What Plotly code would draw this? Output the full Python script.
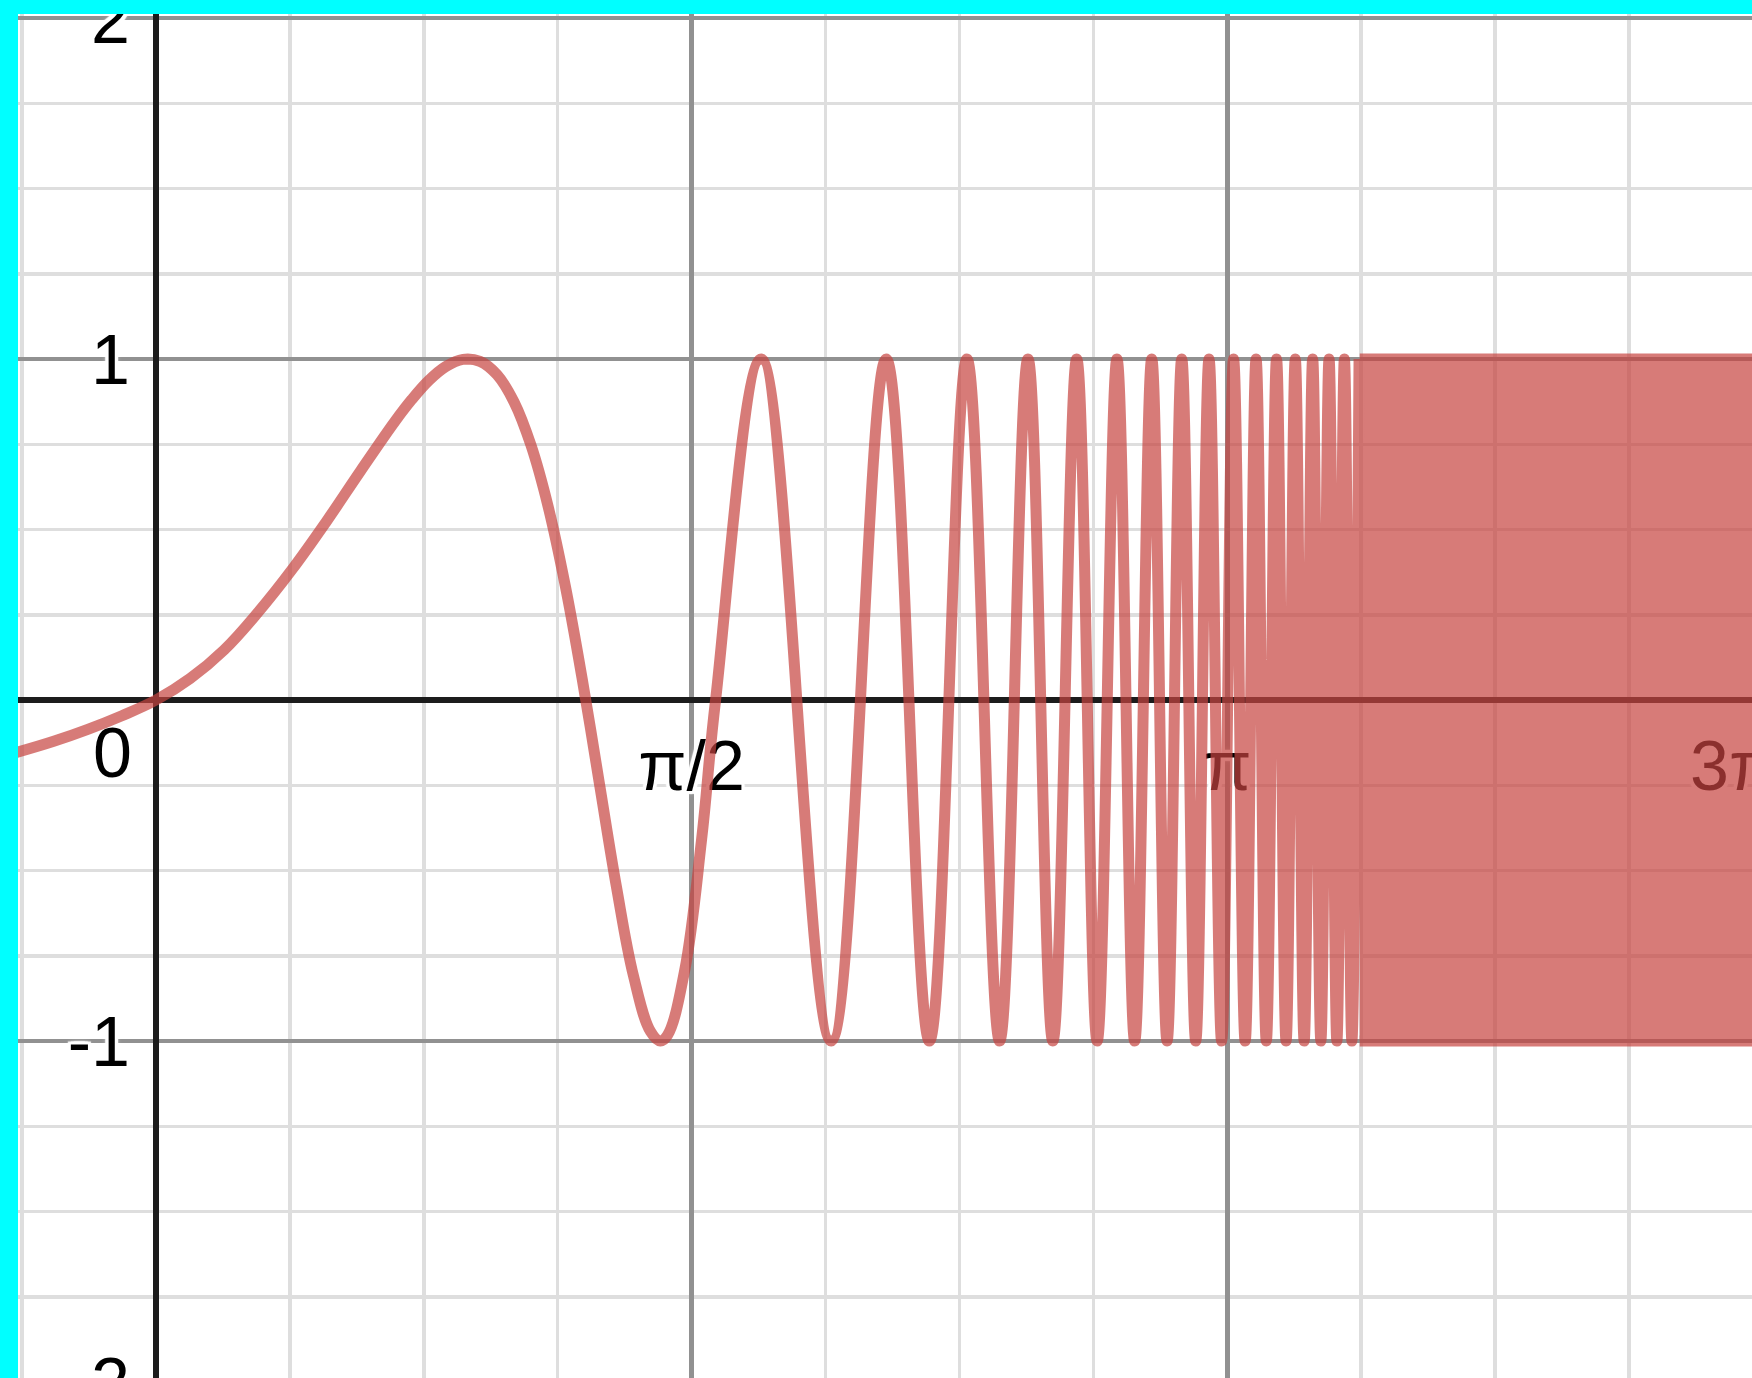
import math
import plotly.graph_objects as go

PI = math.pi

# ---- data ----
# slow part of the curve (x in radians, y value)
smooth_x = [-0.41, -0.3, -0.2, -0.1, 0.0, 0.1, 0.2, 0.3, 0.4, 0.5, 0.6, 0.7, 0.75, 0.8, 0.85,
            0.9, 0.95, 1.0, 1.05, 1.1, 1.15, 1.2, 1.25, 1.3, 1.35, 1.4, 1.45, 1.479, 1.5,
            1.55, 1.6, 1.641]
smooth_y = [-0.154, -0.121, -0.086, -0.046, 0.0, 0.063, 0.147, 0.258, 0.384, 0.524, 0.672,
            0.816, 0.881, 0.937, 0.978, 0.999, 0.993, 0.954, 0.874, 0.746, 0.567, 0.336,
            0.061, -0.243, -0.546, -0.808, -0.972, -1.0, -0.983, -0.795, -0.409, 0.0]

# faster oscillations: peaks and troughs
osc_x = [1.775, 1.980, 2.141, 2.268, 2.378, 2.474, 2.557,
         2.630, 2.700, 2.760, 2.818, 2.870, 2.920, 2.965, 3.008, 3.049, 3.088, 3.125, 3.160,
         3.194, 3.226, 3.256, 3.286, 3.314, 3.341, 3.367, 3.392, 3.416, 3.440, 3.463, 3.485,
         3.507, 3.528]
osc_y = [1, -1, 1, -1, 1, -1, 1,
         -1, 1, -1, 1, -1, 1, -1, 1, -1, 1, -1, 1,
         -1, 1, -1, 1, -1, 1, -1, 1, -1, 1, -1, 1,
         -1, 1]

# beyond this x the oscillation is drawn as a solid band between -1 and 1
band_start = 3.53
band_top = 1
band_bottom = -1

# tick labels
x_tickvals = [PI / 2, PI, 3 * PI / 2]
x_ticktext = ["π/2", "π", "3π/2"]
y_tickvals = [-2, -1, 1, 2]
y_ticktext = ["-2", "-1", "1", "2"]

# ---- layout geometry (pixels) ----
W, H = 1830, 1460            # larger than the window: the right / bottom are cut off by it
ML, MT = 18, 14              # cyan border
X0_PX, Y0_PX, UNIT = 156, 700, 341.0

xmin = (ML - X0_PX) / UNIT
xmax = (W - X0_PX) / UNIT
ymax = (Y0_PX - MT) / UNIT
ymin = (Y0_PX - H) / UNIT

curve_color = "#c74440"
major_grid = "#919191"
minor_grid = "#dedede"
axis_color = "#1c1c1c"

halo = ", ".join(
    f"{dx}px {dy}px 1px #ffffff" for dx, dy in
    [(3, 0), (-3, 0), (0, 3), (0, -3), (3, 3), (-3, -3), (3, -3), (-3, 3)]
) + ", 0 0 6px #ffffff"
label_font = dict(family="Liberation Sans, Arial, sans-serif", size=70, color="#000000", shadow=halo)

# ---- one trace: curve (traced forward and back so its fill is empty) + band ----
cx = smooth_x + osc_x
cy = smooth_y + osc_y
far_in, far_out = 4.80, 5.30
bx = [band_start, band_start + 0.02, far_in, far_out, far_out, far_in, band_start + 0.02, band_start]
by = [band_top, band_top, band_top, band_top, band_bottom, band_bottom, band_bottom, band_bottom]

tx = cx + cx[-2::-1] + [None] + bx
ty = cy + cy[-2::-1] + [None] + by

fig = go.Figure()
fig.add_trace(go.Scatter(
    x=tx, y=ty, mode="lines",
    line=dict(color=curve_color, width=11, shape="spline", smoothing=1.1, simplify=False),
    fill="toself", fillcolor=curve_color, opacity=0.7,
    hoverinfo="skip", showlegend=False,
))
# empty trace so that the overlay axis carrying the origin label exists
fig.add_trace(go.Scatter(x=[], y=[], yaxis="y2", showlegend=False, hoverinfo="skip"))

xpos = (0 - ymin) / (ymax - ymin)
ypos = (0 - xmin) / (xmax - xmin)

fig.update_layout(
    width=W, height=H,
    margin=dict(l=ML, r=0, t=MT, b=0, pad=0, autoexpand=False),
    paper_bgcolor="#00ffff", plot_bgcolor="#ffffff",
    showlegend=False,
    xaxis=dict(
        range=[xmin, xmax], domain=[0, 1], anchor="free", position=xpos,
        tickmode="array", tickvals=x_tickvals, ticktext=x_ticktext,
        showgrid=True, gridcolor=major_grid, gridwidth=4.5,
        zeroline=True, zerolinecolor=axis_color, zerolinewidth=6,
        showline=False, ticks="", tickfont=label_font, ticklabelstandoff=19,
        ticklabeloverflow="allow",
        layer="below traces", fixedrange=True,
        minor=dict(tickmode="linear", tick0=0, dtick=PI / 8, showgrid=True,
                   gridcolor=minor_grid, gridwidth=3.5),
    ),
    yaxis=dict(
        range=[ymin, ymax], domain=[0, 1], anchor="free", position=ypos,
        tickmode="array", tickvals=y_tickvals, ticktext=y_ticktext,
        showgrid=True, gridcolor=major_grid, gridwidth=4.5,
        zeroline=True, zerolinecolor=axis_color, zerolinewidth=6,
        showline=False, ticks="", tickfont=label_font, ticklabelstandoff=26,
        ticklabeloverflow="allow",
        layer="below traces", fixedrange=True,
        minor=dict(tickmode="linear", tick0=0, dtick=0.25, showgrid=True,
                   gridcolor=minor_grid, gridwidth=3.5),
    ),
    yaxis2=dict(
        overlaying="y", range=[ymin, ymax], anchor="free", position=ypos,
        tickmode="array", tickvals=[0], ticktext=["0"],
        showgrid=False, zeroline=False, showline=False, ticks="",
        tickfont=label_font, ticklabelstandoff=24, ticklabelshift=52,
        ticklabeloverflow="allow",
        layer="below traces", fixedrange=True,
    ),
    shapes=[
        dict(type="rect", xref="paper", yref="paper", x0=-0.05, x1=1.05, y0=1, y1=1.05,
             fillcolor="#00ffff", line=dict(width=0), layer="above"),
    ],
)

fig.write_html(
    "out.html",
    config={"displayModeBar": False, "staticPlot": True},
    post_script="document.body.style.margin='0';document.body.style.overflow='hidden';"
                "document.documentElement.style.overflow='hidden';",
)
